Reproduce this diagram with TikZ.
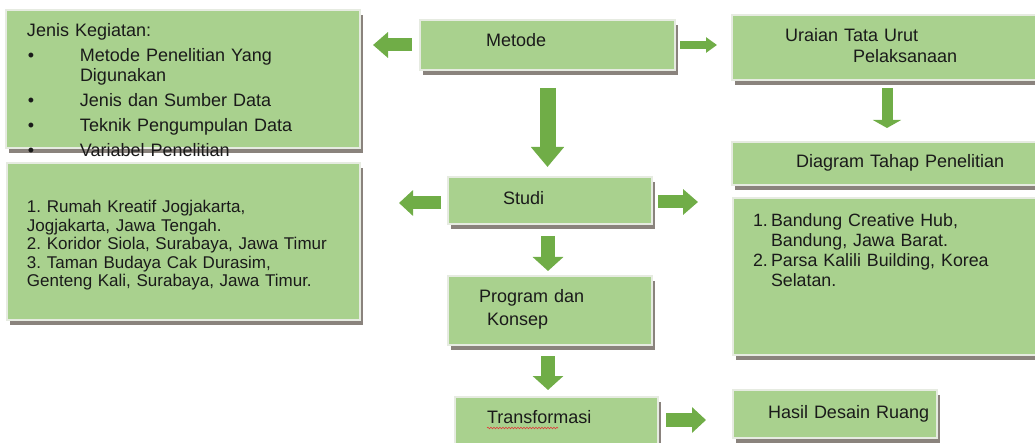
\documentclass[tikz,border=0pt]{standalone}
\usepackage{fontspec}
\setmainfont{Liberation Sans}
\usetikzlibrary{arrows.meta,shadows,calc,decorations.pathmorphing}
\definecolor{boxfill}{HTML}{A9D18E}
\definecolor{boxline}{HTML}{E6EBE1}
\definecolor{shadowgray}{HTML}{8A837D}
\definecolor{arrowgreen}{HTML}{70AD47}
\definecolor{txtcol}{HTML}{1A1A1A}
\definecolor{spellred}{HTML}{E03A3A}
\newcommand{\bulitem}{\makebox[53pt][l]{\hspace*{1pt}•}}
\frenchspacing
\begin{document}
\begin{tikzpicture}[x=1pt,y=-1pt,
  box/.style={draw=boxline, line width=1.6pt, fill=boxfill, inner sep=0pt, outer sep=0pt,
    anchor=north west,
    drop shadow={shadow xshift=3pt, shadow yshift=-5pt, fill=shadowgray, opacity=1}},
  txt/.style={inner sep=0pt, outer sep=0pt, anchor=base west, text width=330pt, align=left,
    text=txtcol, font=\frenchspacing\fontsize{18}{20}\selectfont},
  blockarr/.style n args={3}{draw=arrowgreen, line width=#1, line cap=butt,
    -{Triangle[width=#2,length=#3]}}
]
\useasboundingbox (0,0) rectangle (1035,443);
\clip (0,0) rectangle (1035,443);

% boxes
\node[box, minimum width=354pt, minimum height=138pt] (jenis) at (6,10) {};
\node[box, minimum width=255pt, minimum height=50pt] (metode) at (420,20) {};
\node[box, minimum width=310pt, minimum height=65pt] (uraian) at (732,15) {};
\node[box, minimum width=310pt, minimum height=43pt] (diagram) at (732,142) {};
\node[box, minimum width=310pt, minimum height=157pt] (bandung) at (733,198) {};
\node[box, minimum width=204pt, minimum height=48pt] (hasil) at (733,390) {};
\node[box, minimum width=353pt, minimum height=157pt] (rumah) at (7,163) {};
\node[box, minimum width=204pt, minimum height=47pt] (studi) at (448,177) {};
\node[box, minimum width=204pt, minimum height=69pt] (program) at (448,276) {};
\node[box, minimum width=203pt, minimum height=60pt] (transf) at (455,397) {};

% texts
\node[txt] (tjenis) at (27,37) {Jenis Kegiatan:\\[5pt]
\bulitem Metode Penelitian Yang\\
\hspace*{53pt}Digunakan\\[5pt]
\bulitem Jenis dan Sumber Data\\[5pt]
\bulitem Teknik Pengumpulan Data\\[5pt]
\bulitem Variabel Penelitian};
\node[txt] (tmetode) at (486,47) {Metode};
\node[txt, font=\frenchspacing\fontsize{18}{21}\selectfont] (turaian) at (785,42) {Uraian Tata Urut\\ \hspace*{68pt}Pelaksanaan};
\node[txt] (tdiagram) at (796,168) {Diagram Tahap Penelitian};
\node[txt, font=\frenchspacing\fontsize{17.8}{20}\selectfont] (tbandung) at (753,227) {\makebox[18pt][l]{1.}Bandung Creative Hub,\\
\hspace*{18pt}Bandung, Jawa Barat.\\
\makebox[18pt][l]{2.}Parsa Kalili Building, Korea\\
\hspace*{18pt}Selatan.};
\node[txt, font=\frenchspacing\fontsize{17}{18.5}\selectfont] (trumah) at (27,213) {1. Rumah Kreatif Jogjakarta,\\
Jogjakarta, Jawa Tengah.\\
2. Koridor Siola, Surabaya, Jawa Timur\\
3. Taman Budaya Cak Durasim,\\
Genteng Kali, Surabaya, Jawa Timur.};
\node[txt] (tstudi) at (503,205) {Studi};
\node[txt, font=\frenchspacing\fontsize{18}{23}\selectfont] (tprogram) at (479,303) {Program dan\\ \hspace*{8pt}Konsep};
\node[txt] (ttransf) at (487,423) {Transformasi};
\node[txt] (thasil) at (768,418) {Hasil Desain Ruang};
\draw[spellred, line width=0.6pt, decorate, decoration={snake, amplitude=0.8pt, segment length=3pt}]
  ([yshift=-5pt]ttransf.base west) -- ++(71,0);

% block arrows
\draw[blockarr={13pt}{25pt}{15pt}, shorten <=8pt, shorten >=13pt]
  (metode.west) -- (metode.west -| jenis.east);
\draw[blockarr={7.5pt}{15pt}{11pt}, shorten <=5pt, shorten >=15pt]
  (metode.east) -- (metode.east -| uraian.west);
\draw[blockarr={16pt}{32pt}{20pt}, shorten <=18pt, shorten >=10pt]
  (metode.south) -- (metode.south |- studi.north);
\draw[blockarr={11pt}{28pt}{8pt}, shorten <=8pt, shorten >=14pt]
  (uraian.south) -- (uraian.south |- diagram.north);
\coordinate (sl) at ([yshift=-2.5pt]studi.west);
\draw[blockarr={13pt}{25pt}{14pt}, shorten <=7pt, shorten >=39pt]
  (sl) -- (sl -| rumah.east);
\coordinate (sr) at ([yshift=-1.5pt]studi.east);
\draw[blockarr={13pt}{25pt}{15pt}, shorten <=6pt, shorten >=35pt]
  (sr) -- (sr -| bandung.west);
\coordinate (sd) at ([xshift=-2pt]studi.south);
\draw[blockarr={14pt}{30pt}{14pt}, shorten <=12pt, shorten >=5pt]
  (sd) -- (sd |- program.north);
\coordinate (pd) at ([xshift=-2pt]program.south);
\draw[blockarr={14pt}{30pt}{14pt}, shorten <=11pt, shorten >=7pt]
  (pd) -- (pd |- transf.north);
\coordinate (tarr) at ([yshift=-6pt]hasil.west);
\draw[blockarr={14pt}{25pt}{14pt}, shorten <=8pt, shorten >=27pt]
  (tarr -| transf.east) -- (tarr);
\end{tikzpicture}
\end{document}
